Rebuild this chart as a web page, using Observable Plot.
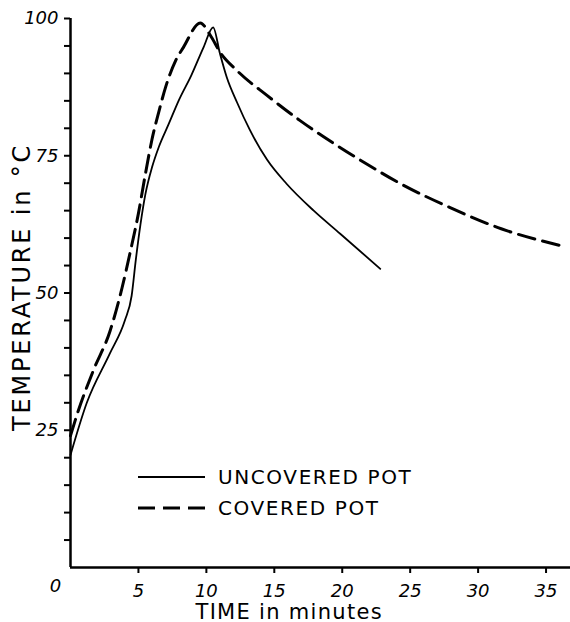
<!DOCTYPE html>
<html>
<head>
<meta charset="utf-8">
<script src="https://cdn.jsdelivr.net/npm/d3@7"></script>
<script src="https://cdn.jsdelivr.net/npm/@observablehq/plot@0.6"></script>
<style>
  html, body { margin: 0; padding: 0; background: #fff; }
  #chart svg { display: block; }
</style>
</head>
<body>
<div id="chart"></div>
<script>
// Water temperature while heating then cooling, pot left uncovered
const uncoveredTime = [0, 1.2, 2.9, 4.0, 4.5, 4.8, 5.15, 5.52, 6.0, 6.5, 7.23, 7.97, 8.9, 9.8, 10.5, 11.0, 11.5, 12.26, 13.2, 14.46, 15.9, 17.9, 19.85, 22.8];
const uncoveredTemp = [20.5, 30, 39, 45, 49.5, 55.9, 62.5, 68.1, 72.9, 76.6, 80.8, 85.1, 89.7, 94.8, 98.4, 93.6, 89.3, 84.7, 79.7, 74.3, 69.9, 65, 60.8, 54.4];

// Same experiment with a lid on the pot
const coveredTime = [0, 0.5, 1.7, 2.9, 3.8, 4.4, 5.0, 5.5, 6.0, 6.5, 7.0, 7.73, 8.3, 9.55, 10.3, 11.0, 12.26, 14.46, 16.9, 19.4, 21.8, 24.3, 27.9, 31.7, 36.3];
const coveredTemp = [24, 28, 36, 43, 51, 57.5, 64.5, 71.5, 78, 83, 87.5, 92.3, 94.7, 99.2, 96.9, 93.9, 90.5, 86.0, 81.4, 77.2, 73.5, 69.9, 65.6, 61.7, 58.5];

// Axis ticks and labels
const xTicks = [5, 10, 15, 20, 25, 30, 35];
const yMajorTicks = [25, 50, 75, 100];
const yMinorTicks = [5, 10, 15, 20, 30, 35, 40, 45, 55, 60, 65, 70, 80, 85, 90, 95];
const originLabel = ["0"];
const xTitle = "TIME in minutes";
const yTitle = "TEMPERATURE in °C";
const legendLabels = ["UNCOVERED POT", "COVERED POT"];

const uncovered = uncoveredTime.map((t, i) => ({time: t, temp: uncoveredTemp[i]}));
const covered = coveredTime.map((t, i) => ({time: t, temp: coveredTemp[i]}));

const numberFont = {fontSize: 18, fontStyle: "italic"};

const plot = Plot.plot({
  width: 570,
  height: 622,
  marginLeft: 70,
  marginRight: 0,
  marginTop: 18,
  marginBottom: 55,
  x: {domain: [0, 36.8], label: null},
  y: {domain: [0, 100], label: null},
  style: {fontFamily: "'DejaVu Sans', sans-serif", color: "#000", background: "#fff", overflow: "visible"},
  marks: [
    Plot.axisY(yMinorTicks, {tickSize: 6, strokeWidth: 2, tickFormat: () => "", label: null}),
    Plot.axisY(yMajorTicks, {tickSize: 6, strokeWidth: 2, tickPadding: 6, ...numberFont, label: null}),
    Plot.axisX(xTicks, {tickSize: 6, strokeWidth: 2, tickPadding: 11, ...numberFont, label: null}),
    Plot.ruleX([0], {strokeWidth: 2.5}),
    Plot.ruleY([0], {strokeWidth: 2.5}),
    Plot.line(uncovered, {x: "time", y: "temp", curve: "monotone-x", stroke: "#000", strokeWidth: 1.8}),
    Plot.line(covered, {x: "time", y: "temp", curve: "monotone-x", stroke: "#000", strokeWidth: 3, strokeDasharray: "17,8"}),
    Plot.text(originLabel, {x: () => 0, y: () => 0, text: d => d, dx: -15, dy: 19, ...numberFont}),
    Plot.text([yTitle], {frameAnchor: "left", textAnchor: "middle", lineAnchor: "middle", rotate: -90, dx: -48, dy: -6, fontSize: 24, text: d => d}),
    Plot.text([xTitle], {frameAnchor: "bottom", textAnchor: "start", dx: -125, dy: 51, fontSize: 21, text: d => d})
  ]
});

const svg = d3.select(plot);
svg.selectAll("text").filter(function() { return this.textContent === yTitle; })
  .style("letter-spacing", "2.8px");
svg.selectAll("text").filter(function() { return this.textContent === xTitle; })
  .style("letter-spacing", "1.3px");

// Legend: line sample followed by its label
const legend = svg.append("g").attr("class", "legend").attr("text-anchor", "start");
const legendStyles = [
  {width: 1.8, dash: null},
  {width: 3, dash: "17,8"}
];
legendLabels.forEach((label, i) => {
  const y = 477 + i * 31;
  legend.append("line")
    .attr("x1", 138).attr("x2", 205).attr("y1", y).attr("y2", y)
    .attr("stroke", "#000")
    .attr("stroke-width", legendStyles[i].width)
    .attr("stroke-dasharray", legendStyles[i].dash);
  legend.append("text")
    .attr("x", 218).attr("y", y)
    .attr("dy", "0.36em")
    .attr("font-size", 20)
    .attr("text-anchor", "start")
    .style("letter-spacing", "1.6px")
    .attr("fill", "#000")
    .text(label);
});

document.getElementById("chart").appendChild(plot);
</script>
</body>
</html>
